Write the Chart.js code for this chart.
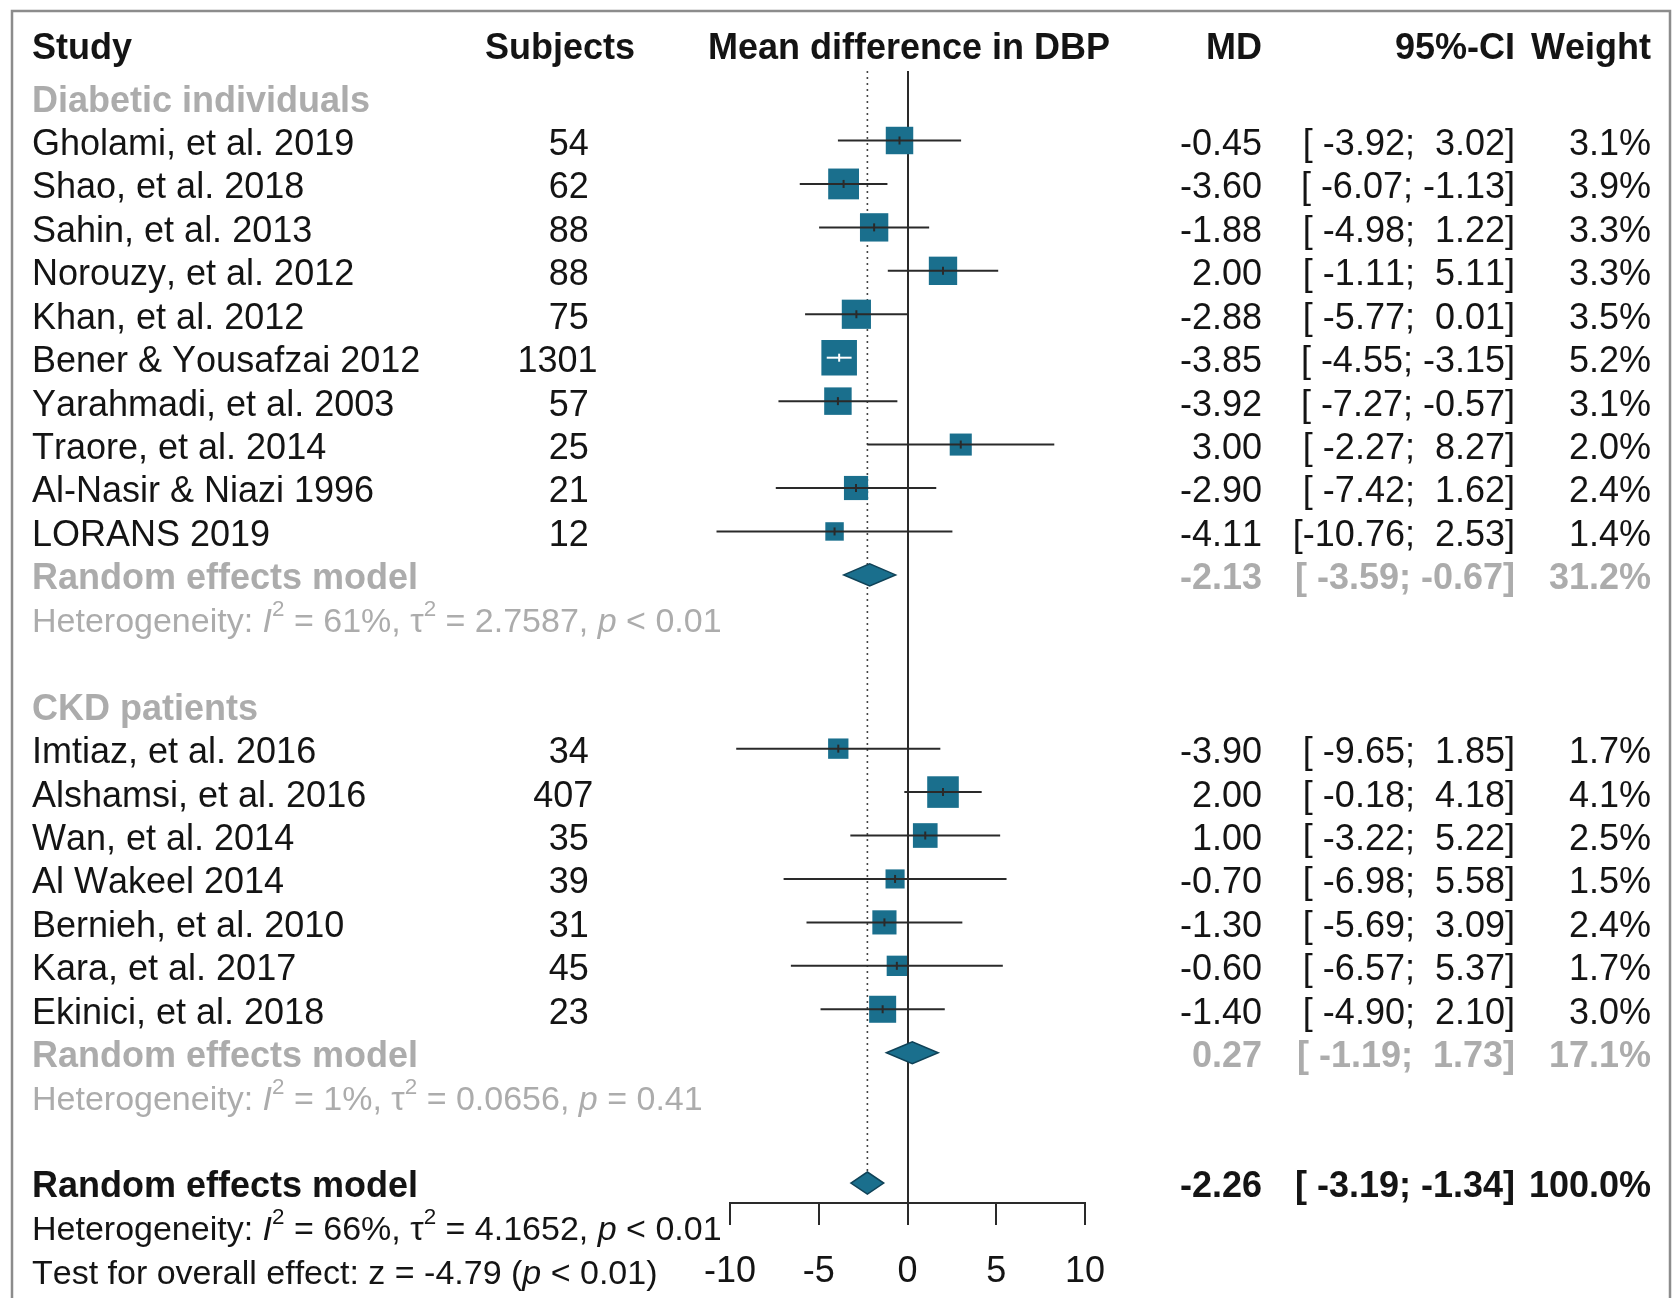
<!DOCTYPE html>
<html><head><meta charset="utf-8">
<script src="https://cdn.jsdelivr.net/npm/chart.js@4.4.1/dist/chart.umd.min.js"></script>
<style>html,body{margin:0;padding:0;background:#fff;overflow:hidden;}#wrap{width:1673px;height:1298px;position:relative;}</style>
</head><body><div id="wrap"><canvas id="c" width="1673" height="1298"></canvas></div>
<script>
const FONT = '"Liberation Sans", Arial, Helvetica, sans-serif';

// ---------- data ----------
const groupNames = ["Diabetic individuals", "CKD patients"];
const studyGroup = [0,0,0,0,0,0,0,0,0,0,1,1,1,1,1,1,1];
const studies = ["Gholami, et al. 2019","Shao, et al. 2018","Sahin, et al. 2013","Norouzy, et al. 2012","Khan, et al. 2012","Bener & Yousafzai 2012","Yarahmadi, et al. 2003","Traore, et al. 2014","Al-Nasir & Niazi 1996","LORANS 2019","Imtiaz, et al. 2016","Alshamsi, et al. 2016","Wan, et al. 2014","Al Wakeel 2014","Bernieh, et al. 2010","Kara, et al. 2017","Ekinici, et al. 2018"];
const subjects = [54,62,88,88,75,1301,57,25,21,12,34,407,35,39,31,45,23];
const md = [-0.45,-3.60,-1.88,2.00,-2.88,-3.85,-3.92,3.00,-2.90,-4.11,-3.90,2.00,1.00,-0.70,-1.30,-0.60,-1.40];
const ciLow = [-3.92,-6.07,-4.98,-1.11,-5.77,-4.55,-7.27,-2.27,-7.42,-10.76,-9.65,-0.18,-3.22,-6.98,-5.69,-6.57,-4.90];
const ciHigh = [3.02,-1.13,1.22,5.11,0.01,-3.15,-0.57,8.27,1.62,2.53,1.85,4.18,5.22,5.58,3.09,5.37,2.10];
const weight = [3.1,3.9,3.3,3.3,3.5,5.2,3.1,2.0,2.4,1.4,1.7,4.1,2.5,1.5,2.4,1.7,3.0];

const subMD = [-2.13, 0.27];
const subLow = [-3.59, -1.19];
const subHigh = [-0.67, 1.73];
const subWeight = [31.2, 17.1];
const subI2 = ["61%", "1%"];
const subTau2 = ["2.7587", "0.0656"];
const subP = ["< 0.01", "= 0.41"];

const allMD = -2.26, allLow = -3.19, allHigh = -1.34, allWeight = 100.0;
const allI2 = "66%", allTau2 = "4.1652", allP = "< 0.01";
const testZ = "-4.79", testP = "< 0.01";

const xTicks = [-10, -5, 0, 5, 10];
const headers = {study: "Study", subjects: "Subjects", plot: "Mean difference in DBP", md: "MD", ci: "95%-CI", weight: "Weight"};
const summaryLabel = "Random effects model";

// ---------- styles ----------
const TEAL = '#1a6f8d', TEAL_DARK = '#0f4257';
const BLACK = '#141414', GRAY = '#acacac';
const FS = 36, FS_HET = 34;

// ---------- row layout (derived from structure) ----------
const studyRow = [];
const groupRow = [], subRow = [], subHetRow = [];
let r = -1;
groupNames.forEach((g, gi) => {
  groupRow[gi] = r++;
  studyGroup.forEach((sg, i) => { if (sg === gi) studyRow[i] = r++; });
  subRow[gi] = r++;
  subHetRow[gi] = r++;
  r++;
});
const allRow = r, allHetRow = r + 1, testRow = r + 2;
const headerRow = -2.2;

const fmt2 = v => v.toFixed(2);
const fmtCI = (lo, hi) => "[" + lo.toFixed(2).padStart(6, " ") + "; " + hi.toFixed(2).padStart(5, " ") + "]";
const fmtW = w => w.toFixed(1) + "%";

function drawRich(ctx, segs, x, y, align, size, color, bold) {
  ctx.fontKerning = 'none';
  let total = 0;
  const items = segs.map(s => {
    const sz = s.sup ? size * 0.66 : size;
    const f = `${s.it ? 'italic ' : ''}${bold ? 'bold ' : ''}${sz}px ${FONT}`;
    ctx.font = f;
    const w = ctx.measureText(s.t).width;
    total += w;
    return {s, f, w};
  });
  let frac = align === 'right' ? 1 : align === 'center' ? 0.5 : (typeof align === 'number' ? align : 0);
  let cx = x - total * frac;
  ctx.fillStyle = color; ctx.textAlign = 'left'; ctx.textBaseline = 'alphabetic';
  const base = y + size * 0.36 + 1.5;
  items.forEach(it => {
    ctx.font = it.f;
    ctx.fillText(it.s.t, cx, it.s.sup ? base - size * 0.47 : base);
    cx += it.w;
  });
}
function txt(ctx, s, x, y, align, opt = {}) {
  drawRich(ctx, [{t: s}], x, y, align, opt.size || FS, opt.color || BLACK, !!opt.bold);
}
function hetSegs(i2, tau2, p) {
  return [{t: "Heterogeneity: "}, {t: "I", it: true}, {t: "2", sup: true}, {t: " = " + i2 + ", "},
          {t: "τ"}, {t: "2", sup: true}, {t: " = " + tau2 + ", "}, {t: "p", it: true}, {t: " " + p}];
}

const COL = {study: 32, subj: 580, md: 1262, ci: 1515, w: 1651, plot: 909};
const DH = 11; // diamond half height px

const forest = {
  id: 'forest',
  beforeDatasetsDraw(chart) {
    const {ctx, scales: {x, y}, chartArea} = chart;
    ctx.save();
    const xd = x.getPixelForValue(allMD);
    ctx.setLineDash([2, 4]); ctx.lineWidth = 1.6; ctx.strokeStyle = '#444';
    ctx.beginPath(); ctx.moveTo(xd, chartArea.top); ctx.lineTo(xd, y.getPixelForValue(allRow) - DH); ctx.stroke();
    ctx.setLineDash([]);
    const diamond = (m, lo, hi, row) => {
      const yc = y.getPixelForValue(row);
      ctx.beginPath();
      ctx.moveTo(x.getPixelForValue(lo), yc);
      ctx.lineTo(x.getPixelForValue(m), yc - DH);
      ctx.lineTo(x.getPixelForValue(hi), yc);
      ctx.lineTo(x.getPixelForValue(m), yc + DH);
      ctx.closePath();
      ctx.fillStyle = TEAL; ctx.fill();
      ctx.lineWidth = 1.5; ctx.strokeStyle = TEAL_DARK; ctx.stroke();
    };
    subMD.forEach((m, gi) => diamond(m, subLow[gi], subHigh[gi], subRow[gi]));
    diamond(allMD, allLow, allHigh, allRow);
    ctx.restore();
  },
  afterDatasetsDraw(chart) {
    const {ctx, scales: {x, y}} = chart;
    const meta = chart.getDatasetMeta(0);
    ctx.save();
    md.forEach((m, i) => {
      const yc = y.getPixelForValue(studyRow[i]);
      const x1 = x.getPixelForValue(ciLow[i]), x2 = x.getPixelForValue(ciHigh[i]);
      const xm = x.getPixelForValue(m);
      const side = meta.data[i].options.radius * Math.SQRT2;
      const inside = (x2 - x1) < side;
      ctx.strokeStyle = inside ? '#ffffff' : '#2a2a2a';
      ctx.lineWidth = 2;
      ctx.beginPath(); ctx.moveTo(x1, yc); ctx.lineTo(x2, yc); ctx.stroke();
      ctx.beginPath(); ctx.moveTo(xm, yc - 4); ctx.lineTo(xm, yc + 4); ctx.stroke();
    });
    ctx.restore();
  },
  afterDraw(chart) {
    const {ctx, scales: {y}} = chart;
    const Y = v => y.getPixelForValue(v);
    ctx.save();
    const hy = Y(headerRow);
    txt(ctx, headers.study, COL.study, hy, 'left', {bold: true});
    txt(ctx, headers.subjects, 560, hy, 'center', {bold: true});
    txt(ctx, headers.plot, COL.plot, hy, 'center', {bold: true});
    txt(ctx, headers.md, COL.md, hy, 'right', {bold: true});
    txt(ctx, headers.ci, COL.ci, hy, 'right', {bold: true});
    txt(ctx, headers.weight, COL.w, hy, 'right', {bold: true});
    groupNames.forEach((g, gi) => {
      txt(ctx, g, COL.study, Y(groupRow[gi]), 'left', {bold: true, color: GRAY});
      const sy = Y(subRow[gi]);
      txt(ctx, summaryLabel, COL.study, sy, 'left', {bold: true, color: GRAY});
      txt(ctx, fmt2(subMD[gi]), COL.md, sy, 'right', {bold: true, color: GRAY});
      txt(ctx, fmtCI(subLow[gi], subHigh[gi]), COL.ci, sy, 'right', {bold: true, color: GRAY});
      txt(ctx, fmtW(subWeight[gi]), COL.w, sy, 'right', {bold: true, color: GRAY});
      drawRich(ctx, hetSegs(subI2[gi], subTau2[gi], subP[gi]), COL.study, Y(subHetRow[gi]), 'left', FS_HET, GRAY, false);
    });
    studies.forEach((s, i) => {
      const sy = Y(studyRow[i]);
      txt(ctx, s, COL.study, sy, 'left');
      txt(ctx, String(subjects[i]), COL.subj, sy, 0.78);
      txt(ctx, fmt2(md[i]), COL.md, sy, 'right');
      txt(ctx, fmtCI(ciLow[i], ciHigh[i]), COL.ci, sy, 'right');
      txt(ctx, fmtW(weight[i]), COL.w, sy, 'right');
    });
    const ay = Y(allRow);
    txt(ctx, summaryLabel, COL.study, ay, 'left', {bold: true});
    txt(ctx, fmt2(allMD), COL.md, ay, 'right', {bold: true});
    txt(ctx, fmtCI(allLow, allHigh), COL.ci, ay, 'right', {bold: true});
    txt(ctx, fmtW(allWeight), COL.w, ay, 'right', {bold: true});
    drawRich(ctx, hetSegs(allI2, allTau2, allP), COL.study, Y(allHetRow), 'left', FS_HET, BLACK, false);
    drawRich(ctx, [{t: "Test for overall effect: z = " + testZ + " ("}, {t: "p", it: true}, {t: " " + testP + ")"}],
             COL.study, Y(testRow), 'left', FS_HET, BLACK, false);
    ctx.strokeStyle = '#8c8c8c'; ctx.lineWidth = 2.5;
    ctx.beginPath();
    ctx.moveTo(12, 1298); ctx.lineTo(12, 11); ctx.lineTo(1670, 11); ctx.lineTo(1670, 1298);
    ctx.stroke();
    ctx.restore();
  }
};

Chart.defaults.font.family = FONT;

new Chart(document.getElementById('c'), {
  type: 'scatter',
  data: {
    datasets: [{
      data: md.map((m, i) => ({x: m, y: studyRow[i]})),
      pointStyle: 'rect',
      pointRadius: c => 15.6 * Math.sqrt(weight[c.dataIndex]) / Math.SQRT2,
      pointHoverRadius: c => 15.6 * Math.sqrt(weight[c.dataIndex]) / Math.SQRT2,
      backgroundColor: TEAL,
      borderWidth: 0,
      clip: false
    }]
  },
  options: {
    responsive: false,
    animation: false,
    events: [],
    devicePixelRatio: 1,
    layout: {padding: {left: 730, right: 588, top: 71, bottom: 0}},
    plugins: {legend: {display: false}, tooltip: {enabled: false}},
    scales: {
      x: {
        type: 'linear', position: 'bottom', min: -10, max: 10,
        afterBuildTicks: s => { s.ticks = xTicks.map(v => ({value: v})); },
        afterFit: s => { s.height = 95; },
        ticks: {font: {size: 36}, color: BLACK, padding: 25, maxRotation: 0, autoSkip: false,
                callback: v => String(v)},
        grid: {drawOnChartArea: true, drawTicks: true, tickLength: 22,
               color: c => (c.tick && c.tick.value === 0) ? '#2a2a2a' : 'rgba(0,0,0,0)',
               tickColor: '#2a2a2a', lineWidth: 2, tickWidth: 2},
        border: {display: true, color: '#2a2a2a', width: 2}
      },
      y: {type: 'linear', reverse: true, min: -1.6, max: 24.46, display: false}
    }
  },
  plugins: [forest]
});
</script>
</body></html>
